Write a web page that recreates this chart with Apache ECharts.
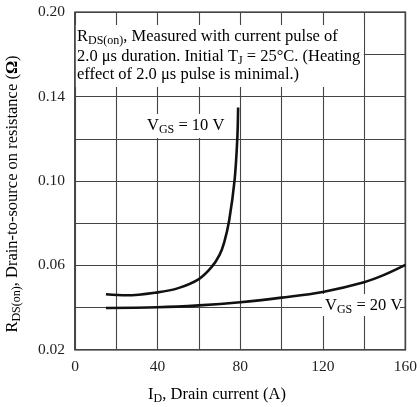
<!DOCTYPE html>
<html><head><meta charset="utf-8">
<script src="https://cdn.jsdelivr.net/npm/echarts@6/dist/echarts.min.js"></script>
<style>html,body{margin:0;padding:0;background:#fff}#c{width:420px;height:407px}</style>
</head><body><div id="c"></div>
<script>
// Drain current (A) vs R_DS(on) (ohm)
const vgs10Current = [15, 25, 40, 50, 60, 66, 70, 72.3, 74.7, 77.3, 78.6, 79];
const vgs10Resist  = [0.0463, 0.0458, 0.0472, 0.0492, 0.0535, 0.0590, 0.0650, 0.0710, 0.0815, 0.1005, 0.1200, 0.1349];
const vgs20Current = [15, 40, 60, 80, 100, 120, 140, 150, 160];
const vgs20Resist  = [0.0398, 0.0401, 0.0410, 0.0425, 0.0447, 0.0474, 0.0520, 0.0556, 0.0602];
const xTickLabels = ['0', '40', '80', '120', '160'];
const yTickLabels = {2: '0.02', 6: '0.06', 10: '0.10', 14: '0.14', 18: '0.20'};

const FONT = 'Liberation Serif';
const chart = echarts.init(document.getElementById('c'), null, {renderer: 'canvas'});
const zip = (a, b) => a.map((v, i) => [v, b[i]]);
const rich = {
  a: {fontFamily: FONT, fontSize: 16.5, color: '#222'},
  s: {fontFamily: FONT, fontSize: 12, color: '#222', padding: [8, 0, 0, 0]},
  b: {fontFamily: FONT, fontSize: 16.5, fontWeight: 'bold', color: '#222'}
};
chart.setOption({
  animation: false,
  grid: {left: 75, right: 12.5, top: 12.3, bottom: 57.3, show: true, borderColor: '#111', borderWidth: 1.5},
  xAxis: {
    type: 'value', min: 0, max: 160, interval: 20,
    axisLine: {show: false}, axisTick: {show: false},
    splitLine: {lineStyle: {color: '#444', width: 1.1}},
    axisLabel: {fontFamily: FONT, fontSize: 15.5, color: '#222', margin: 9,
      formatter: v => xTickLabels.includes(String(v)) ? String(v) : ''}
  },
  yAxis: {
    type: 'value', min: 0.02, max: 0.18, interval: 0.02,
    axisLine: {show: false}, axisTick: {show: false},
    splitLine: {lineStyle: {color: '#444', width: 1.1}},
    axisLabel: {fontFamily: FONT, fontSize: 15.5, color: '#222', margin: 10,
      formatter: v => yTickLabels[Math.round(v * 100)] || ''}
  },
  series: [
    {type: 'line', data: zip(vgs10Current, vgs10Resist), showSymbol: false, smooth: 0.35,
     lineStyle: {color: '#111', width: 2.6}, z: 3},
    {type: 'line', data: zip(vgs20Current, vgs20Resist), showSymbol: false, smooth: 0.35,
     lineStyle: {color: '#111', width: 2.6}, z: 3}
  ],
  graphic: [
    {type: 'rect', shape: {x: 75.8, y: 25, width: 288, height: 62}, style: {fill: '#fff'}, z: 10},
    {type: 'text', x: 77, y: 26.5, z: 11, style: {
      text: '{a|R}{s|DS(on)}{a|, Measured with current pulse of}\n{a|2.0 μs duration. Initial T}{s|J}{a| = 25°C. (Heating}\n{a|effect of 2.0 μs pulse is minimal.)}',
      rich: rich}},
    {type: 'rect', shape: {x: 148, y: 114, width: 82, height: 24}, style: {fill: '#fff'}, z: 10},
    {type: 'text', x: 147, y: 126, z: 11, style: {text: '{a|V}{s|GS}{a| = 10 V}', rich: rich, verticalAlign: 'middle'}},
    {type: 'rect', shape: {x: 322, y: 294, width: 78, height: 22}, style: {fill: '#fff'}, z: 10},
    {type: 'text', x: 325, y: 306, z: 11, style: {text: '{a|V}{s|GS}{a| = 20 V}', rich: rich, verticalAlign: 'middle'}},
    {type: 'text', x: 217, y: 395, z: 11, style: {text: '{a|I}{s|D}{a|, Drain current (A)}', rich: rich, align: 'center', verticalAlign: 'middle'}},
    {type: 'text', x: 13, y: 194, rotation: Math.PI / 2, z: 11, style: {
      text: '{a|R}{s|DS(on)}{a|, Drain-to-source on resistance (}{b|Ω}{a|)}',
      rich: rich, align: 'center', verticalAlign: 'middle'}}
  ]
});
</script></body></html>
